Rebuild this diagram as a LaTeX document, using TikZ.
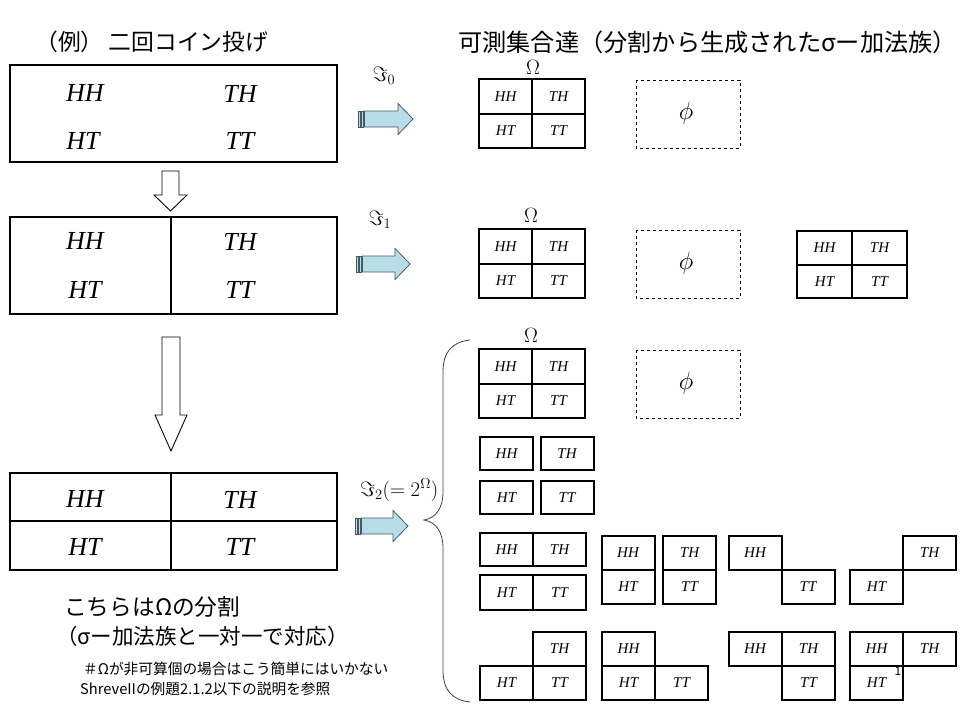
\documentclass[tikz,border=0pt]{standalone}
\usepackage{fontspec}
\setmainfont{Liberation Serif}
\newfontfamily\jp{Noto Sans CJK JP}
\definecolor{arrfill}{RGB}{183,222,232}
\definecolor{arrdraw}{RGB}{70,90,100}
\tikzset{
  bigbox/.style={draw, line width=2.4pt},
  bigtxt/.style={font=\fontsize{26}{26}\selectfont\itshape, inner sep=0},
  sc/.style={draw, line width=2pt, minimum width=53pt, minimum height=34.5pt, inner sep=0, font=\fontsize{15}{15}\selectfont\itshape},
  phibox/.style={draw, dashed, line width=0.8pt},
  omg/.style={font=\fontsize{22}{22}\selectfont, inner sep=0},
  philab/.style={font=\fontsize{24}{24}\selectfont, inner sep=0},
  jpbig/.style={font=\jp\fontsize{21.5}{21.5}\selectfont, inner sep=0, anchor=west},
  jpsmall/.style={font=\jp\fontsize{14.7}{14.7}\selectfont, inner sep=0, anchor=west},
  imlab/.style={font=\fontsize{21}{21}\selectfont, inner sep=0},
  hollow/.style={draw, line width=0.9pt, fill=white},
  blockarr/.style={draw=arrdraw, fill=arrfill, line width=0.8pt},
  stripe/.style={draw=arrdraw, fill=arrfill, line width=0.6pt},
  bracestyle/.style={draw=black!75, line width=0.8pt}
}
\begin{document}
\begin{tikzpicture}[x=1pt,y=-1pt]
\useasboundingbox (0,0) rectangle (960,720);

% titles
\node[jpbig, font=\jp\fontsize{22.8}{22.8}\selectfont] (t1) at (35,42) {（例） 二回コイン投げ};
\node[jpbig, font=\jp\fontsize{24.2}{24.2}\selectfont] (t2) at (458,42) {可測集合達（分割から生成されたσー加法族）};

% big box 1
\draw[bigbox] (10,65) rectangle (337,162);
\node[bigtxt] (a1) at (85,93) {HH};
\node[bigtxt] (a2) at (240,94) {TH};
\node[bigtxt] (a3) at (83,141) {HT};
\node[bigtxt] (a4) at (240,141) {TT};

% big box 2
\draw[bigbox] (10,217) rectangle (337,314);
\draw[bigbox] (171,217) -- (171,314);
\node[bigtxt] (b1) at (85,241) {HH};
\node[bigtxt] (b2) at (240,242) {TH};
\node[bigtxt] (b3) at (85,290) {HT};
\node[bigtxt] (b4) at (240,290) {TT};

% big box 3
\draw[bigbox] (10,473) rectangle (337,570);
\draw[bigbox] (171,473) -- (171,570);
\draw[bigbox] (10,521) -- (337,521);
\node[bigtxt] (c1) at (85,499) {HH};
\node[bigtxt] (c2) at (240,500) {TH};
\node[bigtxt] (c3) at (85,547) {HT};
\node[bigtxt] (c4) at (240,547) {TT};

% hollow down arrows
\draw[hollow] (162,171) -- (179,171) -- (179,195) -- (187,195) -- (170.5,211) -- (154,195) -- (162,195) -- cycle;
\draw[hollow] (162,337) -- (180,337) -- (180,415) -- (187,415) -- (171,451) -- (155,415) -- (162,415) -- cycle;

% block arrows
\foreach \x/\y/\t in {358/119/413, 356/264/410, 355/526/408}{
  \draw[stripe] (\x,\y-8) rectangle (\x+2.5,\y+8);
  \draw[stripe] (\x+3.5,\y-8) rectangle (\x+5.5,\y+8);
  \draw[blockarr] (\x+6.5,\y-8) -- (\t-15,\y-8) -- (\t-15,\y-15.5) -- (\t,\y) -- (\t-15,\y+15.5) -- (\t-15,\y+8) -- (\x+6.5,\y+8) -- cycle;
}

% labels for sigma-algebras
\node[imlab] (i0) at (384,76) {$\Im_0$};
\node[imlab] (i1) at (380,220) {$\Im_1$};
\node[imlab, anchor=west] (i2) at (360,490) {$\Im_2(=2^{\Omega})$};

% row 1
\node[omg] (o1) at (533,67) {$\Omega$};
\node[sc] (g11) at (505.5,96.5) {HH};
\node[sc] (g12) at (558.5,96.5) {TH};
\node[sc] (g13) at (505.5,131) {HT};
\node[sc] (g14) at (558.5,131) {TT};
\draw[phibox] (636,80) rectangle (740,148);
\node[philab] (p1) at (686,113) {$\phi$};

% row 2
\node[omg] (o2) at (531,215) {$\Omega$};
\node[sc] (g21) at (505.5,246.5) {HH};
\node[sc] (g22) at (558.5,246.5) {TH};
\node[sc] (g23) at (505.5,281) {HT};
\node[sc] (g24) at (558.5,281) {TT};
\draw[phibox] (636,230) rectangle (740,298);
\node[philab] (p2) at (686,263) {$\phi$};
\node[sc, minimum width=55pt, minimum height=33.5pt] (h21) at (824.5,248) {HH};
\node[sc, minimum width=55pt, minimum height=33.5pt] (h22) at (879.5,248) {TH};
\node[sc, minimum width=55pt, minimum height=33.5pt] (h23) at (824.5,281.5) {HT};
\node[sc, minimum width=55pt, minimum height=33.5pt] (h24) at (879.5,281.5) {TT};

% row 3
\node[omg] (o3) at (531,335) {$\Omega$};
\node[sc] (g31) at (505.5,366.5) {HH};
\node[sc] (g32) at (558.5,366.5) {TH};
\node[sc] (g33) at (505.5,401) {HT};
\node[sc] (g34) at (558.5,401) {TT};
\draw[phibox] (636,350) rectangle (740,418);
\node[philab] (p3) at (686,383) {$\phi$};

% singletons
\node[sc, minimum height=33pt] (s1) at (506.5,453.5) {HH};
\node[sc, minimum height=33pt] (s2) at (567,453.5) {TH};
\node[sc, minimum height=33pt] (s3) at (506.5,497.5) {HT};
\node[sc, minimum height=33pt] (s4) at (567,497.5) {TT};

% pairs horizontal
\node[sc, minimum height=33pt] (d1) at (506.5,549.5) {HH};
\node[sc, minimum height=33pt] (d2) at (559.5,549.5) {TH};
\node[sc, minimum height=35pt] (d3) at (506.5,592.5) {HT};
\node[sc, minimum height=35pt] (d4) at (559.5,592.5) {TT};

% pairs vertical
\node[sc, minimum height=34pt] (v1) at (628,553) {HH};
\node[sc, minimum height=34pt] (v2) at (628,587) {HT};
\node[sc, minimum height=34pt] (v3) at (689.5,553) {TH};
\node[sc, minimum height=34pt] (v4) at (689.5,587) {TT};

% pairs diagonal
\node[sc, minimum height=34pt] (x1) at (755,553) {HH};
\node[sc, minimum height=34pt] (x2) at (808,587) {TT};
\node[sc, minimum height=34pt] (x3) at (876.5,587) {HT};
\node[sc, minimum height=34pt] (x4) at (929.5,553) {TH};

% triples
\node[sc, minimum height=34pt] (r11) at (559.5,648.5) {TH};
\node[sc, minimum height=34pt] (r12) at (506.5,682.5) {HT};
\node[sc, minimum height=34pt] (r13) at (559.5,682.5) {TT};
\node[sc, minimum height=34pt] (r21) at (628.5,648.5) {HH};
\node[sc, minimum height=34pt] (r22) at (628.5,682.5) {HT};
\node[sc, minimum height=34pt] (r23) at (681.5,682.5) {TT};
\node[sc, minimum height=34pt] (r31) at (755,648.5) {HH};
\node[sc, minimum height=34pt] (r32) at (808.5,648.5) {TH};
\node[sc, minimum height=34pt] (r33) at (808.5,682.5) {TT};
\node[sc, minimum height=34pt] (r41) at (876.5,648.5) {HH};
\node[sc, minimum height=34pt] (r42) at (929.5,648.5) {TH};
\node[sc, minimum height=34pt] (r43) at (876.5,682.5) {HT};
\node[font=\jp\fontsize{12}{12}\selectfont, inner sep=0] (pg) at (898,671) {1};

% brace
\draw[bracestyle] (470,340) .. controls (452,342) and (443,352) .. (443,372)
  -- (443,492) .. controls (443,508) and (436,518) .. (424,520)
  .. controls (436,522) and (443,532) .. (443,548)
  -- (443,670) .. controls (443,690) and (452,700) .. (470,702);

% bottom-left text
\node[jpbig, font=\jp\fontsize{22.7}{22.7}\selectfont] (n1) at (64,607) {こちらはΩの分割};
\node[jpbig] (n2) at (56,636) {（σー加法族と一対一で対応）};
\node[jpsmall] (n3) at (83,669) {＃Ωが非可算個の場合はこう簡単にはいかない};
\node[jpsmall] (n4) at (80,689) {ShreveIIの例題2.1.2以下の説明を参照};
\end{tikzpicture}
\end{document}
